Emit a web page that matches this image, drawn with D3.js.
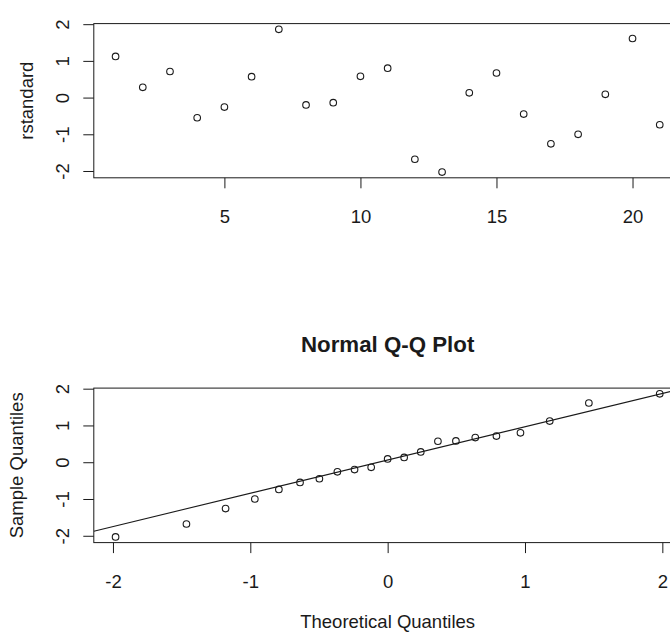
<!DOCTYPE html>
<html>
<head>
<meta charset="utf-8">
<script src="https://cdn.jsdelivr.net/npm/d3@7"></script>
<style>
  html, body { margin: 0; padding: 0; background: #fff; }
  svg { display: block; }
  text { font-family: "Liberation Sans", Arial, sans-serif; fill: #1a1a1a; }
</style>
</head>
<body>
<svg id="chart" width="670" height="632"></svg>
<script>
// ---- data ----
const obsIndex = [1,2,3,4,5,6,7,8,9,10,11,12,13,14,15,16,17,18,19,20,21];
const rstandard = [1.12, 0.28, 0.71, -0.55, -0.26, 0.57, 1.86, -0.20, -0.14, 0.58,
                   0.80, -1.68, -2.03, 0.13, 0.67, -0.45, -1.26, -1.00, 0.09, 1.61, -0.74];
const theoreticalQ = [-1.981, -1.465, -1.180, -0.967, -0.792, -0.638, -0.497, -0.366, -0.241, -0.120,
                      0, 0.120, 0.241, 0.366, 0.497, 0.638, 0.792, 0.967, 1.180, 1.465, 1.981];
const sampleQ = [-2.03, -1.68, -1.26, -1.00, -0.74, -0.55, -0.45, -0.26, -0.20, -0.14,
                 0.09, 0.13, 0.28, 0.57, 0.58, 0.67, 0.71, 0.80, 1.12, 1.61, 1.86];
const topXTicks = [5, 10, 15, 20];
const yTicks = [-2, -1, 0, 1, 2];
const qqXTicks = [-2, -1, 0, 1, 2];
const normalQuartile = 0.6745;

// ---- helpers ----
const svg = d3.select("#chart");
const FS = 18.5;
const FONT = "Liberation Sans, Arial, sans-serif";
const INK = "#1a1a1a";
const pad4 = ext => { const r = ext[1] - ext[0]; return [ext[0] - 0.04 * r, ext[1] + 0.04 * r]; };
const fmt = d => String(d);   // plain hyphen-minus, as R prints

function panel(cfg) {
  const { left, right, top, bottom, xDom, yDom, xTicks, yLabel, yLabelX, xLabel, title } = cfg;
  const x = d3.scaleLinear().domain(xDom).range([left, right]);
  const y = d3.scaleLinear().domain(yDom).range([bottom, top]);
  const g = svg.append("g");

  // x axis
  const xa = g.append("g").attr("transform", `translate(0,${bottom})`)
    .call(d3.axisBottom(x).tickValues(xTicks).tickFormat(fmt).tickSize(10.5).tickSizeOuter(0));
  xa.select(".domain").remove();
  xa.selectAll(".tick line").attr("stroke", INK).attr("stroke-width", 1);
  xa.selectAll(".tick text").attr("y", 45).attr("dy", null)
    .attr("font-size", FS).attr("font-family", FONT).attr("fill", INK);

  // y axis
  const ya = g.append("g").attr("transform", `translate(${left},0)`)
    .call(d3.axisLeft(y).tickValues(yTicks).tickFormat(fmt).tickSize(10.5).tickSizeOuter(0));
  ya.select(".domain").remove();
  ya.selectAll(".tick line").attr("stroke", INK).attr("stroke-width", 1);
  ya.selectAll(".tick text")
    .attr("x", null).attr("dy", "0.358em")
    .attr("text-anchor", "middle")
    .attr("transform", `translate(${62 - left},0) rotate(-90)`)
    .attr("font-size", FS).attr("font-family", FONT).attr("fill", INK);

  // box
  g.append("rect").attr("x", left).attr("y", top)
    .attr("width", right - left).attr("height", bottom - top)
    .attr("fill", "none").attr("stroke", INK).attr("stroke-width", 1);

  // y label
  g.append("text")
    .attr("transform", `translate(${yLabelX},${(top + bottom) / 2}) rotate(-90)`)
    .attr("text-anchor", "middle").attr("font-size", FS).text(yLabel);

  if (xLabel) {
    g.append("text").attr("x", (left + right) / 2).attr("y", bottom + 85)
      .attr("text-anchor", "middle").attr("font-size", FS).text(xLabel);
  }
  if (title) {
    g.append("text").attr("x", (left + right) / 2).attr("y", top - 36.4)
      .attr("text-anchor", "middle").attr("font-size", 22.3).attr("font-weight", "bold").text(title);
  }
  return { g, x, y };
}

// ---- top panel: index plot ----
const p1 = panel({
  left: 93.8, right: 681.5, top: 23.6, bottom: 177.8,
  xDom: pad4(d3.extent(obsIndex)), yDom: pad4(d3.extent(rstandard)),
  xTicks: topXTicks, yLabel: "rstandard", yLabelX: 33
});
p1.g.append("g").selectAll("circle").data(rstandard).join("circle")
  .attr("cx", (d, i) => p1.x(obsIndex[i])).attr("cy", d => p1.y(d))
  .attr("r", 3.3).attr("fill", "none").attr("stroke", INK).attr("stroke-width", 1.1);

// ---- bottom panel: normal Q-Q plot ----
const p2 = panel({
  left: 93.8, right: 681.5, top: 388.1, bottom: 542.6,
  xDom: pad4(d3.extent(theoreticalQ)), yDom: pad4(d3.extent(sampleQ)),
  xTicks: qqXTicks, yLabel: "Sample Quantiles", yLabelX: 23,
  xLabel: "Theoretical Quantiles", title: "Normal Q-Q Plot"
});
p2.g.append("g").selectAll("circle").data(sampleQ).join("circle")
  .attr("cx", (d, i) => p2.x(theoreticalQ[i])).attr("cy", d => p2.y(d))
  .attr("r", 3.3).attr("fill", "none").attr("stroke", INK).attr("stroke-width", 1.1);

// qq line through the quartiles
const q1 = d3.quantile(sampleQ, 0.25), q3 = d3.quantile(sampleQ, 0.75);
const slope = (q3 - q1) / (2 * normalQuartile);
const intercept = q1 + slope * normalQuartile;
const xd = p2.x.domain();
svg.append("defs").append("clipPath").attr("id", "clip2")
  .append("rect").attr("x", 93.8).attr("y", 388.1).attr("width", 681.5 - 93.8).attr("height", 542.6 - 388.1);
p2.g.append("line").attr("clip-path", "url(#clip2)")
  .attr("x1", p2.x(xd[0])).attr("y1", p2.y(intercept + slope * xd[0]))
  .attr("x2", p2.x(xd[1])).attr("y2", p2.y(intercept + slope * xd[1]))
  .attr("stroke", INK).attr("stroke-width", 1.1);
</script>
</body>
</html>
